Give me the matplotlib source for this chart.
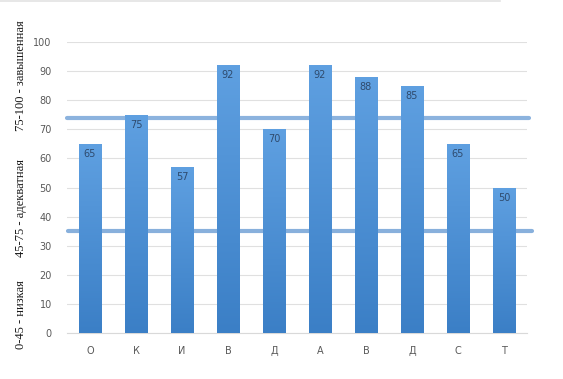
import numpy as np
import matplotlib
matplotlib.use("Agg")
import matplotlib.pyplot as plt
from matplotlib.colors import LinearSegmentedColormap
from matplotlib.lines import Line2D

# данные
categories = ["О", "К", "И", "В", "Д", "А", "В", "Д", "С", "Т"]
values = [65, 75, 57, 92, 70, 92, 88, 85, 65, 50]
levels = [74, 35]          # границы уровней
level_labels = ["0-45 - низкая", "45-75 - адекватная", "75-100 - завышенная"]

fig = plt.figure(figsize=(5.63, 3.79), dpi=100)
ax = fig.add_axes([67 / 563, 46 / 379, 460 / 563, 291 / 379])

x = np.arange(len(categories))
bars = ax.bar(x, values, width=0.5, color="#4a8fd6", zorder=3)

# градиент в столбцах
cmap = LinearSegmentedColormap.from_list("bar", ["#3b7fc6", "#5fa0e1"])
grad = np.linspace(0, 1, 256).reshape(-1, 1)
for b in bars:
    bx, by = b.get_x(), b.get_y()
    w, h = b.get_width(), b.get_height()
    im = ax.imshow(grad, extent=[bx, bx + w, by, by + h], origin="lower",
                   aspect="auto", cmap=cmap, zorder=3.5)
    im.set_clip_path(b)

for xi, v in zip(x, values):
    ax.text(xi, v - 3.5, str(v), ha="center", va="center", fontsize=7,
            color="#2f4b6e", zorder=4)

# линии уровней (за столбцами)
ax.plot([-0.5, 9.54], [levels[0], levels[0]], color="#8cb3de", lw=3.0,
        solid_capstyle="round", clip_on=False, zorder=2)
ax.plot([-0.48, 9.61], [levels[1], levels[1]], color="#88b0dc", lw=3.0,
        solid_capstyle="round", clip_on=False, zorder=2)

ax.set_xlim(-0.5, 9.5)
ax.set_ylim(0, 100)
ax.set_yticks(range(0, 101, 10))
ax.set_xticks(x)
ax.set_xticklabels(categories)
ax.tick_params(length=0, labelsize=7, colors="#595959")
ax.tick_params(axis="y", pad=11)
ax.tick_params(axis="x", pad=9)
ax.grid(axis="y", color="#e0e0e0", lw=0.8, zorder=0)
ax.set_axisbelow(True)
for s in ["top", "right", "left"]:
    ax.spines[s].set_visible(False)
ax.spines["bottom"].set_color("#d9d9d9")

# подписи слева
ypos = [315, 208, 76]
for t, yp in zip(level_labels, ypos):
    fig.text(21 / 563, 1 - yp / 379, t, rotation=90, ha="center", va="center",
             fontsize=9, family="Liberation Serif", color="#1a1a1a")

fig.add_artist(Line2D([0, 500 / 563], [0.998, 0.998], color="#e3e3e3", lw=1.2))

fig.savefig("out.png", dpi=100)
